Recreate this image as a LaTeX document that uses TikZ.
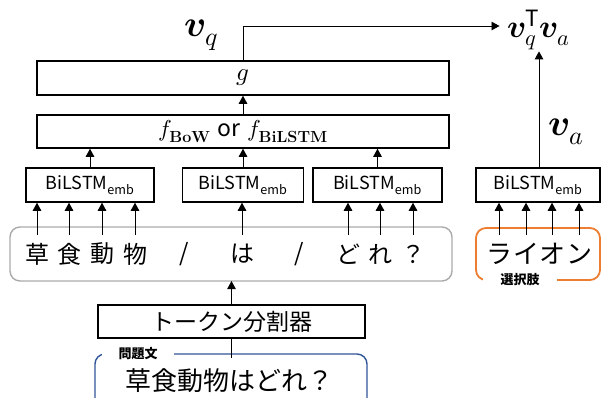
\documentclass[tikz,border=0pt]{standalone}
\usepackage{amsmath}
\usepackage{fontspec}
\usepackage{unicode-math}
\setsansfont{Noto Sans CJK JP}
\newfontfamily\jp{Noto Sans CJK JP}
\usetikzlibrary{arrows.meta}
\definecolor{grayb}{RGB}{170,170,170}
\definecolor{orb}{RGB}{237,125,49}
\definecolor{blb}{RGB}{47,85,151}
\begin{document}
\begin{tikzpicture}[x=1pt,y=-1pt,
  box/.style={draw=black,line width=1.5pt,inner sep=0pt,fill=white},
  arr/.style={-{Triangle[width=8.5pt,length=8pt]},line width=0.9pt},
  lbl/.style={font=\jp\fontsize{18}{22}\selectfont},
  tok/.style={inner sep=0pt,minimum height=38pt,font=\jp\fontsize{24}{28}\selectfont},
  tag/.style={font=\jp\bfseries\fontsize{13}{15}\selectfont,fill=white,inner sep=0pt,minimum height=10pt}]
\useasboundingbox (0,0) rectangle (601,397);
\clip (0,0) rectangle (601,397);
% top boxes
\node[box,minimum width=412pt,minimum height=34pt,font=\fontsize{25}{30}\selectfont] (g) at (243,78) {$g$};
\node[box,minimum width=412pt,minimum height=33pt,font=\fontsize{23}{27}\selectfont] (f) at (243,131.5)
  {$f_{\mathbf{BoW}}$ {\jp or} $f_{\mathbf{BiLSTM}}$};
% BiLSTM boxes
\node[box,minimum width=128pt,minimum height=34pt,lbl] (b1) at (90,185) {BiLSTM\textsubscript{emb}};
\node[box,minimum width=121pt,minimum height=34pt,lbl] (b2) at (243,185) {BiLSTM\textsubscript{emb}};
\node[box,minimum width=129pt,minimum height=34pt,lbl] (b3) at (377.5,185) {BiLSTM\textsubscript{emb}};
\node[box,minimum width=124pt,minimum height=34pt,lbl] (b4) at (538,185) {BiLSTM\textsubscript{emb}};
% token box
\draw[grayb,line width=1.4pt,rounded corners=10pt] (10,227) rectangle (452,281);
\node[tok] (t1) at (37,254) {草};
\node[tok] (t2) at (69,254) {食};
\node[tok] (t3) at (102,254) {動};
\node[tok] (t4) at (135,254) {物};
\node[tok] (s1) at (184,254) {/};
\node[tok] (t5) at (242,254) {は};
\node[tok] (s2) at (299,254) {/};
\node[tok] (t6) at (348,254) {ど};
\node[tok] (t7) at (380,254) {れ};
\node[tok] (t8) at (413,254) {？};
% choice box
\draw[orb,line width=1.8pt,rounded corners=10pt] (476,228) rectangle (600,280);
\node[tag,minimum width=74pt] (ch) at (520,280) {選択肢};
\node[tok,font=\jp\fontsize{26}{30}\selectfont] (a1) at (499,254) {ラ};
\node[tok,font=\jp\fontsize{26}{30}\selectfont] (a2) at (526,254) {イ};
\node[tok,font=\jp\fontsize{26}{30}\selectfont] (a3) at (552,254) {オ};
\node[tok,font=\jp\fontsize{26}{30}\selectfont] (a4) at (579,254) {ン};
% tokenizer
\node[box,minimum width=267pt,minimum height=33pt,font=\jp\fontsize{23}{27}\selectfont] (tk) at (231.5,321.5) {トークン分割器};
% question box
\draw[blb,line width=1.4pt,rounded corners=10pt] (95,354) rectangle (367,420);
\node[tag,minimum width=72pt] (qt) at (138,354) {問題文};
\node[font=\jp\fontsize{26}{30}\selectfont,inner sep=0pt] (q) at (229,381) {草食動物はどれ？};
% arrows from tokens
\foreach \t in {t1,t2,t3,t4} \draw[arr] (\t.north) -- (\t.north |- b1.south);
\draw[arr] (t5.north) -- (t5.north |- b2.south);
\foreach \t in {t6,t7,t8} \draw[arr] (\t.north) -- (\t.north |- b3.south);
\foreach \t in {a1,a2,a3,a4} \draw[arr] (\t.north) -- (\t.north |- b4.south);
% tokenizer links
\draw[arr] (tk.north) -- (tk.north |- 0,281);
\coordinate (qe) at (231.5,358);
\draw[line width=0.9pt] (tk.south) -- (qe);
% up the stack
\draw[arr] (b1.north) -- (b1.north |- f.south);
\draw[arr] (b2.north) -- (b2.north |- f.south);
\draw[arr] (b3.north) -- (b3.north |- f.south);
\draw[arr] (f.north) -- (g.south);
% outputs
\node[inner sep=0pt,font=\fontsize{37}{42}\selectfont] (vq) at (201,35) {$\symbfit{v}_{q}$};
\node[inner xsep=8pt,inner ysep=1pt,font=\fontsize{32}{38}\selectfont] (prod) at (539,30) {$\symbfit{v}_{q}^{\mathsf{T}}\symbfit{v}_{a}$};
\node[inner sep=0pt,font=\fontsize{37}{42}\selectfont] (va) at (566,132) {$\symbfit{v}_{a}$};
\draw[arr] (g.north) -- (g.north |- 0,26) -- (prod.west |- 0,26);
\draw[arr] (b4.north -| prod.south) -- (prod.south);
\end{tikzpicture}
\end{document}
